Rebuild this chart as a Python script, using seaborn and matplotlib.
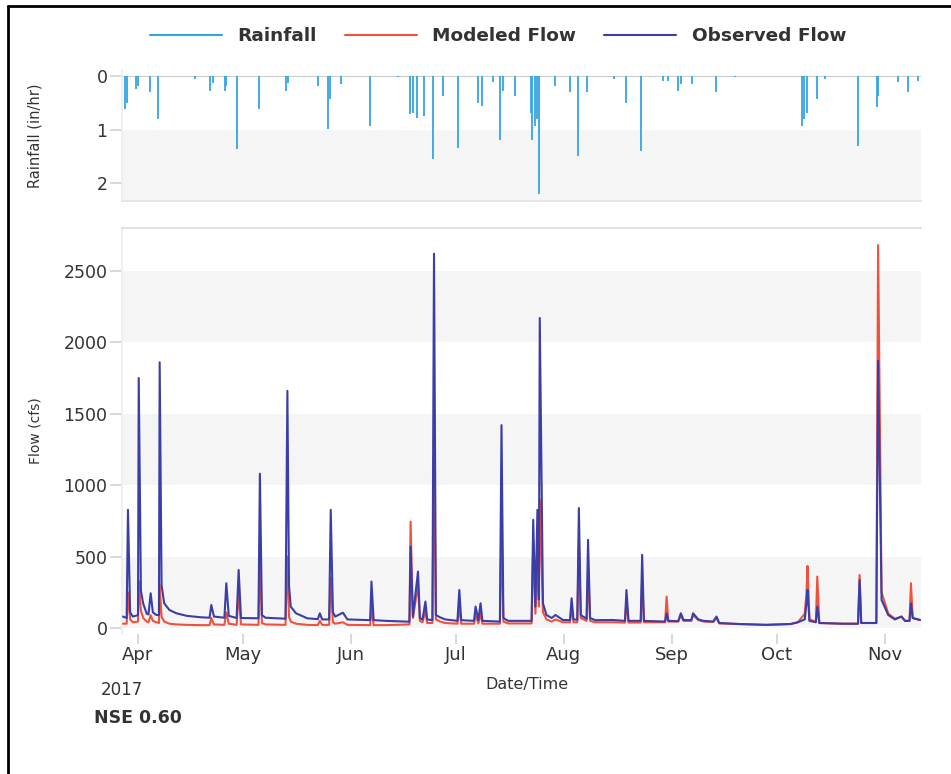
import matplotlib
matplotlib.use("Agg")
import matplotlib.pyplot as plt
import matplotlib.dates as mdates
from matplotlib.lines import Line2D
import seaborn as sns
import pandas as pd

# ---------------- data ----------------
rain_times = [
    "2017-03-28 05:00", "2017-03-28 20:00", "2017-03-31 13:00", "2017-04-01 00:00",
    "2017-04-04 08:00", "2017-04-06 18:00", "2017-04-17 06:00", "2017-04-21 13:00",
    "2017-04-22 10:00", "2017-04-25 20:00", "2017-04-26 08:00", "2017-04-29 12:00",
    "2017-05-05 14:00", "2017-05-13 12:00", "2017-05-13 23:00", "2017-05-22 14:00",
    "2017-05-25 11:00", "2017-05-25 22:00", "2017-05-29 07:00", "2017-06-06 09:00",
    "2017-06-14 10:00", "2017-06-17 20:00", "2017-06-18 19:00", "2017-06-19 23:00",
    "2017-06-21 23:00", "2017-06-24 13:00", "2017-06-27 09:00", "2017-07-01 17:00",
    "2017-07-07 10:00", "2017-07-08 10:00", "2017-07-11 17:00", "2017-07-13 15:00",
    "2017-07-14 14:00", "2017-07-17 23:00", "2017-07-22 12:00", "2017-07-23 00:00",
    "2017-07-23 16:00", "2017-07-24 04:00", "2017-07-24 19:00", "2017-07-29 10:00",
    "2017-08-02 17:00", "2017-08-05 02:00", "2017-08-07 12:00", "2017-08-15 09:00",
    "2017-08-18 16:00", "2017-08-23 01:00", "2017-08-29 10:00", "2017-08-30 21:00",
    "2017-09-02 18:00", "2017-09-03 12:00", "2017-09-06 14:00", "2017-09-13 11:00",
    "2017-09-18 23:00", "2017-10-08 02:00", "2017-10-08 20:00", "2017-10-09 12:00",
    "2017-10-12 09:00", "2017-10-14 18:00", "2017-10-24 07:00", "2017-10-29 14:00",
    "2017-10-30 01:00", "2017-11-04 18:00", "2017-11-07 15:00", "2017-11-10 12:00",
]
rain_values = [
    0.61, 0.50, 0.24, 0.18,
    0.30, 0.80, 0.04, 0.27,
    0.12, 0.27, 0.18, 1.36,
    0.61, 0.27, 0.12, 0.18,
    0.99, 0.42, 0.14, 0.93,
    0.02, 0.70, 0.68, 0.77,
    0.74, 1.55, 0.36, 1.33,
    0.49, 0.55, 0.11, 1.18,
    0.27, 0.36, 0.68, 1.18,
    0.93, 0.80, 2.20, 0.18,
    0.30, 1.49, 0.30, 0.05,
    0.49, 1.39, 0.08, 0.08,
    0.27, 0.14, 0.14, 0.30,
    0.02, 0.93, 0.80, 0.68,
    0.42, 0.05, 1.30, 0.58,
    0.36, 0.11, 0.30, 0.08,
]

flow_times = [
    "2017-03-27 17:00", "2017-03-28 18:00", "2017-03-29 03:00", "2017-03-29 18:00",
    "2017-03-30 12:00", "2017-04-01 00:00", "2017-04-01 05:00", "2017-04-01 20:00",
    "2017-04-02 12:00", "2017-04-03 12:00", "2017-04-04 00:00", "2017-04-04 15:00",
    "2017-04-05 06:00", "2017-04-06 06:00", "2017-04-07 00:00", "2017-04-07 05:00",
    "2017-04-07 18:00", "2017-04-08 12:00", "2017-04-10 00:00", "2017-04-12 00:00",
    "2017-04-15 00:00", "2017-04-19 00:00", "2017-04-21 12:00", "2017-04-22 00:00",
    "2017-04-22 18:00", "2017-04-25 18:00", "2017-04-26 07:00", "2017-04-27 00:00",
    "2017-04-29 06:00", "2017-04-29 20:00", "2017-04-30 12:00", "2017-05-05 12:00",
    "2017-05-05 22:00", "2017-05-06 12:00", "2017-05-07 12:00", "2017-05-13 06:00",
    "2017-05-13 19:00", "2017-05-14 06:00", "2017-05-14 18:00", "2017-05-16 06:00",
    "2017-05-19 12:00", "2017-05-22 12:00", "2017-05-23 02:00", "2017-05-23 18:00",
    "2017-05-25 18:00", "2017-05-26 05:00", "2017-05-26 20:00", "2017-05-27 12:00",
    "2017-05-29 17:00", "2017-05-31 00:00", "2017-06-06 12:00", "2017-06-06 21:00",
    "2017-06-07 12:00", "2017-06-11 00:00", "2017-06-17 18:00", "2017-06-18 02:00",
    "2017-06-18 18:00", "2017-06-20 05:00", "2017-06-20 18:00", "2017-06-21 12:00",
    "2017-06-22 08:00", "2017-06-22 20:00", "2017-06-24 08:00", "2017-06-24 19:00",
    "2017-06-25 08:00", "2017-06-26 12:00", "2017-06-28 00:00", "2017-07-01 12:00",
    "2017-07-02 01:00", "2017-07-02 14:00", "2017-07-06 06:00", "2017-07-06 17:00",
    "2017-07-07 12:00", "2017-07-08 03:00", "2017-07-08 16:00", "2017-07-13 16:00",
    "2017-07-14 03:00", "2017-07-14 16:00", "2017-07-16 00:00", "2017-07-22 18:00",
    "2017-07-23 05:00", "2017-07-23 20:00", "2017-07-24 10:00", "2017-07-24 20:00",
    "2017-07-25 02:00", "2017-07-26 00:00", "2017-07-27 00:00", "2017-07-28 12:00",
    "2017-07-29 14:00", "2017-07-31 18:00", "2017-08-02 18:00", "2017-08-03 05:00",
    "2017-08-03 18:00", "2017-08-04 20:00", "2017-08-05 07:00", "2017-08-05 20:00",
    "2017-08-07 12:00", "2017-08-07 22:00", "2017-08-08 12:00", "2017-08-10 00:00",
    "2017-08-15 00:00", "2017-08-18 12:00", "2017-08-18 22:00", "2017-08-19 12:00",
    "2017-08-23 00:00", "2017-08-23 10:00", "2017-08-23 22:00", "2017-08-30 00:00",
    "2017-08-30 10:00", "2017-08-30 22:00", "2017-09-02 18:00", "2017-09-03 12:00",
    "2017-09-04 06:00", "2017-09-06 12:00", "2017-09-07 00:00", "2017-09-08 12:00",
    "2017-09-10 00:00", "2017-09-12 18:00", "2017-09-13 17:00", "2017-09-14 12:00",
    "2017-09-20 00:00", "2017-09-28 00:00", "2017-10-05 00:00", "2017-10-07 00:00",
    "2017-10-09 00:00", "2017-10-09 12:00", "2017-10-09 19:00", "2017-10-10 08:00",
    "2017-10-12 04:00", "2017-10-12 14:00", "2017-10-13 04:00", "2017-10-20 00:00",
    "2017-10-24 06:00", "2017-10-24 17:00", "2017-10-25 04:00", "2017-10-29 12:00",
    "2017-10-30 00:00", "2017-10-31 00:00", "2017-11-01 22:00", "2017-11-03 19:00",
    "2017-11-05 17:00", "2017-11-06 17:00", "2017-11-08 00:00", "2017-11-08 10:00",
    "2017-11-08 22:00", "2017-11-11 00:00",
]
observed_flow = [
    80, 70, 827, 110,
    80, 90, 1750, 260,
    170, 100, 95, 243,
    110, 91, 90, 1860,
    300, 173, 126, 103,
    85, 75, 72, 161,
    80, 72, 313, 85,
    70, 406, 70, 68,
    1080, 90, 72, 65,
    1660, 300, 150, 103,
    68, 62, 103, 60,
    60, 827, 110, 80,
    107, 60, 55, 325,
    55, 50, 44, 570,
    80, 395, 70, 60,
    185, 60, 55, 2620,
    91, 75, 60, 50,
    266, 55, 50, 150,
    55, 173, 50, 45,
    1420, 70, 50, 50,
    757, 150, 827, 200,
    2170, 173, 91, 70,
    91, 56, 55, 208,
    60, 58, 839, 90,
    65, 617, 70, 55,
    56, 50, 266, 50,
    50, 512, 50, 45,
    103, 50, 48, 103,
    56, 55, 103, 60,
    50, 45, 80, 35,
    28, 22, 28, 40,
    60, 180, 266, 50,
    40, 150, 35, 30,
    30, 336, 35, 35,
    1870, 196, 91, 60,
    80, 50, 50, 173,
    70, 56,
]
modeled_flow = [
    30, 30, 250, 60,
    40, 45, 330, 120,
    70, 45, 40, 90,
    50, 40, 35, 300,
    80, 45, 30, 25,
    22, 20, 20, 70,
    25, 22, 110, 30,
    22, 250, 25, 22,
    500, 35, 25, 22,
    500, 80, 45, 30,
    22, 20, 50, 22,
    22, 350, 40, 30,
    40, 22, 20, 150,
    20, 20, 25, 745,
    70, 300, 50, 40,
    120, 35, 35, 1200,
    60, 45, 35, 30,
    150, 30, 30, 90,
    32, 100, 30, 30,
    700, 45, 32, 32,
    600, 100, 500, 150,
    900, 110, 60, 45,
    60, 40, 40, 150,
    40, 40, 600, 70,
    50, 400, 50, 40,
    40, 38, 200, 38,
    38, 350, 40, 40,
    220, 45, 45, 90,
    50, 50, 90, 55,
    45, 42, 70, 32,
    28, 22, 28, 40,
    100, 250, 434, 60,
    45, 360, 35, 30,
    30, 371, 35, 35,
    2680, 250, 100, 65,
    80, 50, 50, 313,
    70, 56,
]

series_labels = ["Rainfall", "Modeled Flow", "Observed Flow"]
flow_ticks = [0, 500, 1000, 1500, 2000, 2500]
rain_ticks = [0, 1, 2]
x_start, x_end = "2017-03-27 10:00", "2017-11-11 07:00"

# ---------------- style ----------------
sns.set_theme(style="white")
plt.rcParams['font.family'] = ['DejaVu Sans']

RAIN_C = "#35a5e2"
MOD_C = "#f0513f"
OBS_C = "#3a3ea6"
BAND_C = "#f5f5f5"
TICK_C = "#d4d4d4"
TXT_C = "#333333"

W, H = 951, 774
fig = plt.figure(figsize=(W / 100, H / 100), dpi=100)


def rect(l, t, r, b):
    return [l / W, 1 - b / H, (r - l) / W, (b - t) / H]


ax_r = fig.add_axes(rect(122, 70, 921, 201))
ax_f = fig.add_axes(rect(122, 228, 921, 634), sharex=ax_r)

rain_df = pd.DataFrame({"time": pd.to_datetime(rain_times), "rain": rain_values})
flow_df = pd.DataFrame({
    "time": pd.to_datetime(flow_times),
    "observed": observed_flow,
    "modeled": modeled_flow,
})

# ---- rainfall panel ----
ax_r.axhspan(1, 2.33, color=BAND_C, zorder=0, lw=0)
ax_r.axhline(0, color="#cccccc", lw=0.8, zorder=1)
ax_r.vlines(rain_df["time"], 0, rain_df["rain"], color=RAIN_C, lw=1.3, zorder=2)
ax_r.set_ylim(2.33, -0.12)
ax_r.set_yticks(rain_ticks)
ax_r.set_ylabel("Rainfall (in/hr)", fontsize=10.5, color=TXT_C)
ax_r.yaxis.set_label_coords(-0.1, 0.5)
ax_r.tick_params(axis="y", labelsize=12.5, colors=TXT_C, length=9, color=TICK_C,
                 left=True, pad=1.5)
ax_r.tick_params(axis="x", bottom=False, labelbottom=False)
for s in ["top", "right"]:
    ax_r.spines[s].set_visible(False)
ax_r.spines["left"].set_color("#eeeeee")
ax_r.spines["bottom"].set_color("#e4e4e4")

# ---- flow panel ----
for lo, hi in [(0, 500), (1000, 1500), (2000, 2500)]:
    ax_f.axhspan(lo, hi, color=BAND_C, zorder=0, lw=0)
sns.lineplot(data=flow_df, x="time", y="modeled", ax=ax_f, color=MOD_C,
             lw=1.5, estimator=None, sort=False, zorder=3)
sns.lineplot(data=flow_df, x="time", y="observed", ax=ax_f, color=OBS_C,
             lw=1.5, estimator=None, sort=False, zorder=4)
ax_f.set_ylim(-42, 2800)
ax_f.set_yticks(flow_ticks)
ax_f.set_xlim(pd.Timestamp(x_start), pd.Timestamp(x_end))
ax_f.xaxis.set_major_locator(mdates.MonthLocator())
ax_f.xaxis.set_major_formatter(mdates.DateFormatter("%b"))
ax_f.tick_params(axis="x", labelsize=13, colors=TXT_C, length=7, color=TICK_C,
                 bottom=True, pad=2)
ax_f.tick_params(axis="y", labelsize=12.5, colors=TXT_C, length=9, color=TICK_C,
                 left=True, pad=1.5)
ax_f.set_ylabel("Flow (cfs)", fontsize=10, color=TXT_C)
ax_f.yaxis.set_label_coords(-0.1, 0.5)
ax_f.set_xlabel("")
for s in ["right", "bottom"]:
    ax_f.spines[s].set_visible(False)
ax_f.spines["top"].set_color("#dddddd")
ax_f.spines["left"].set_color("#eeeeee")

# ---- texts ----
fig.text(527 / W, 1 - 684 / H, "Date/Time", ha="center", va="center", fontsize=11.5, color=TXT_C)
fig.text(122 / W, 1 - 690 / H, "2017", ha="center", va="center", fontsize=12, color=TXT_C)
fig.text(94 / W, 1 - 718 / H, "NSE 0.60", ha="left", va="center", fontsize=12.5,
         fontweight="bold", color=TXT_C)

# ---- legend ----
handles = [Line2D([], [], color=RAIN_C, lw=1.5),
           Line2D([], [], color=MOD_C, lw=1.5),
           Line2D([], [], color=OBS_C, lw=1.5)]
fig.legend(handles, series_labels, loc="center", bbox_to_anchor=(498 / W, 1 - 36 / H),
           ncol=3, frameon=False, prop={"weight": "bold", "size": 13.3},
           handlelength=3.9, handletextpad=0.85, columnspacing=1.5,
           labelcolor=TXT_C)

# ---- outer frame (top and left edges visible) ----
fig.add_artist(Line2D([8 / W, 8 / W], [0, 1 - 6 / H], transform=fig.transFigure,
                      color="black", lw=2))
fig.add_artist(Line2D([8 / W, 1], [1 - 6 / H, 1 - 6 / H], transform=fig.transFigure,
                      color="black", lw=2))

fig.savefig("out.png", dpi=100, facecolor="white")
